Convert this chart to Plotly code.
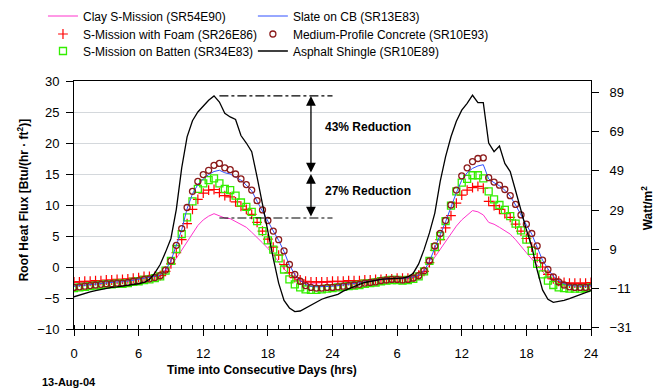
import numpy as np
import plotly.graph_objects as go

# time axis: 0..48 h in half-hour steps
hours = np.arange(0, 48.01, 0.5)

asphalt = [-4.8,-4.5,-4.2,-4.0,-3.8,-3.6,-3.4,-3.3,-3.2,-3.1,-3.0,-2.9,-2.7,-2.5,-2.0,-1.0,
           0.4,2.4,4.6,9.3,16.0,21.0,23.6,25.0,26.0,26.9,27.6,26.6,24.8,24.2,23.8,21.2,
           20.0,18.6,14.5,10.0,5.8,1.4,-2.6,-5.4,-6.6,-7.2,-7.1,-6.6,-6.1,-5.6,-5.2,-4.9,
           -4.7,-4.4,-3.9,-3.5,-3.1,-2.8,-2.5,-2.3,-2.1,-2.0,-1.9,-1.9,-1.9,-1.8,-1.6,-1.0,
           0.5,2.8,5.5,8.7,13.8,17.8,21.0,23.5,25.3,26.4,27.7,26.5,26.5,20.0,18.6,19.5,
           16.7,15.4,12.3,9.1,6.0,3.3,-0.5,-3.7,-5.2,-5.7,-5.6,-5.4,-5.1,-4.8,-4.5,-4.1,
           -3.8]

batten = [-3.4,-3.3,-3.2,-3.1,-3.0,-2.9,-2.8,-2.8,-2.7,-2.7,-2.6,-2.4,-2.3,-2.1,-2.0,-1.8,
          -1.5,-0.6,1.0,2.9,5.3,8.0,10.6,12.6,13.5,14.0,14.3,13.5,12.6,12.4,11.5,10.4,
          9.7,8.9,7.4,5.8,4.3,2.8,1.4,-0.4,-2.0,-2.8,-3.3,-3.6,-3.7,-3.7,-3.6,-3.5,
          -3.4,-3.3,-3.2,-3.1,-3.0,-2.9,-2.7,-2.6,-2.5,-2.3,-2.2,-2.1,-2.1,-2.2,-2.1,-1.9,
          -1.5,-0.7,1.0,3.2,5.0,7.4,9.9,12.2,13.6,14.2,14.8,14.8,14.3,12.2,10.9,10.0,
          9.2,8.2,7.0,5.9,4.4,2.6,0.5,-1.2,-2.2,-2.9,-3.3,-3.4,-3.5,-3.5,-3.5,-3.4,
          -3.3]

concrete = [-3.3,-3.2,-3.1,-3.0,-2.9,-2.8,-2.7,-2.7,-2.6,-2.6,-2.5,-2.3,-2.2,-2.0,-1.9,-1.7,
            -1.4,-0.5,1.0,3.5,6.2,9.6,12.2,13.8,14.9,15.6,16.4,16.7,16.0,15.7,15.0,14.2,
            13.3,12.4,10.7,9.2,7.5,5.8,4.4,2.6,0.4,-1.2,-2.3,-3.0,-3.3,-3.4,-3.4,-3.3,
            -3.3,-3.2,-3.1,-3.0,-2.9,-2.8,-2.6,-2.5,-2.4,-2.2,-2.1,-2.0,-2.0,-2.1,-2.0,-1.8,
            -1.4,-0.6,1.0,3.4,5.4,7.5,10.0,12.4,14.7,16.0,17.0,17.5,17.6,14.4,13.7,13.2,
            12.5,11.5,10.1,8.4,6.9,5.4,3.4,1.1,-0.4,-1.6,-2.4,-2.9,-3.2,-3.3,-3.3,-3.3,
            -3.2]

slate = [-3.1,-3.0,-2.9,-2.8,-2.7,-2.6,-2.5,-2.5,-2.4,-2.4,-2.3,-2.1,-2.0,-1.8,-1.7,-1.5,
         -1.3,-0.5,1.0,3.4,6.0,9.4,11.8,13.3,14.2,14.9,15.4,15.6,15.2,15.0,14.5,14.0,
         13.2,12.3,10.6,9.1,7.4,5.8,4.3,2.5,0.3,-1.2,-2.2,-2.8,-3.1,-3.2,-3.2,-3.1,
         -3.1,-3.0,-2.9,-2.8,-2.7,-2.6,-2.4,-2.3,-2.2,-2.0,-1.9,-1.8,-1.8,-1.9,-1.8,-1.6,
         -1.3,-0.6,0.9,3.2,5.2,7.3,9.7,12.0,14.0,15.2,15.9,16.3,16.5,14.2,13.6,13.1,
         12.4,11.4,10.0,8.3,6.8,5.3,3.3,1.1,-0.3,-1.5,-2.2,-2.7,-3.0,-3.1,-3.1,-3.1,
         -3.0]

foam = [-2.4,-2.4,-2.3,-2.3,-2.2,-2.2,-2.1,-2.1,-2.0,-2.0,-1.9,-1.8,-1.7,-1.5,-1.5,-1.5,
        -1.4,-0.7,0.5,2.3,4.4,7.0,9.3,10.9,11.9,12.4,12.5,12.0,11.5,11.3,10.5,9.8,
        9.3,8.5,7.2,5.8,4.5,3.2,1.9,0.4,-0.9,-1.7,-2.1,-2.3,-2.4,-2.4,-2.4,-2.4,
        -2.3,-2.3,-2.3,-2.2,-2.2,-2.2,-2.1,-2.1,-2.0,-2.0,-1.9,-1.9,-1.8,-1.8,-1.8,-1.6,
        -1.3,-0.7,0.7,2.7,4.4,6.3,8.3,10.3,11.6,12.4,12.8,13.0,12.7,10.6,9.9,9.3,
        8.6,8.0,6.9,5.8,4.6,3.2,1.5,0.0,-1.2,-1.9,-2.3,-2.5,-2.6,-2.6,-2.6,-2.6,
        -2.5]

clay = [-2.5,-2.5,-2.4,-2.4,-2.3,-2.3,-2.2,-2.2,-2.1,-2.1,-2.0,-1.9,-1.8,-1.5,-1.3,-1.4,
        -1.3,-0.7,0.2,1.4,2.7,4.1,5.5,6.7,7.6,8.2,8.6,8.2,7.9,7.8,7.3,6.9,
        6.4,5.6,4.8,3.9,3.0,2.0,0.8,-0.3,-1.2,-1.9,-2.3,-2.5,-2.6,-2.6,-2.5,-2.5,
        -2.4,-2.4,-2.4,-2.3,-2.3,-2.3,-2.2,-2.2,-2.1,-2.1,-2.0,-2.0,-1.9,-1.9,-1.9,-1.7,
        -1.4,-0.8,0.3,1.6,2.9,4.2,5.5,6.6,7.6,8.4,9.1,8.9,8.4,7.2,6.9,6.4,
        5.9,5.3,4.4,3.3,2.3,1.3,0.3,-0.8,-1.7,-2.2,-2.5,-2.6,-2.7,-2.7,-2.7,-2.7,
        -2.6]

x_tickvals = [0, 6, 12, 18, 24, 30, 36, 42, 48]
x_ticktext = ["0", "6", "12", "18", "24", "6", "12", "18", "24"]
y2_ticks = [-31, -11, 9, 29, 49, 69, 89]
BTU_TO_W = 3.1546

FONT = "Liberation Sans, Arial, sans-serif"

fig = go.Figure()

fig.add_trace(go.Scatter(x=hours, y=clay, mode="lines", name="Clay S-Mission (SR54E90)",
                         line=dict(color="#ff33cc", width=1), legend="legend"))
fig.add_trace(go.Scatter(x=hours, y=foam, mode="markers", name="S-Mission with Foam (SR26E86)",
                         marker=dict(symbol="cross-thin", size=7, color="#ff0000",
                                     line=dict(color="#ff0000", width=1.2)),
                         legend="legend2"))
fig.add_trace(go.Scatter(x=hours, y=batten, mode="markers", name="S-Mission on Batten (SR34E83)",
                         marker=dict(symbol="square-open", size=7, color="#33ee00",
                                     line=dict(color="#33ee00", width=1.3)),
                         legend="legend3"))
fig.add_trace(go.Scatter(x=hours, y=slate, mode="lines", name="Slate on CB (SR13E83)",
                         line=dict(color="#3050ff", width=1), legend="legend4"))
fig.add_trace(go.Scatter(x=hours, y=concrete, mode="markers", name="Medium-Profile Concrete (SR10E93)",
                         marker=dict(symbol="circle-open", size=6, color="#8b1a1a",
                                     line=dict(color="#8b1a1a", width=1.3)),
                         legend="legend5"))
fig.add_trace(go.Scatter(x=hours, y=asphalt, mode="lines", name="Asphalt Shingle (SR10E89)",
                         line=dict(color="#000000", width=1.3), legend="legend6"))
# empty trace to anchor the secondary (W/m2) axis
fig.add_trace(go.Scatter(x=[None], y=[None], yaxis="y2", showlegend=False, hoverinfo="skip"))

# reduction annotation levels
y_top, y_mid, y_low = 27.6, 15.0, 7.9
x_line0, x_line1, x_arrow, x_text = 13.5, 24.0, 22.0, 23.1

for yv in (y_top, y_low):
    fig.add_shape(type="line", x0=x_line0, x1=x_line1, y0=yv, y1=yv, xref="x", yref="y",
                  line=dict(color="black", width=1.2, dash="dashdot"))

for y_a, y_b in ((y_top, y_mid), (y_mid, y_low)):
    fig.add_annotation(x=x_arrow, y=y_a, ax=x_arrow, ay=y_b, xref="x", yref="y",
                       axref="x", ayref="y", showarrow=True, arrowhead=2, arrowside="end+start",
                       arrowsize=1.5, arrowwidth=1.3, arrowcolor="black", text="",
                       standoff=0, startstandoff=0)

fig.add_annotation(x=x_text, y=22.6, xref="x", yref="y", text="<b>43% Reduction</b>",
                   showarrow=False, xanchor="left", yanchor="middle",
                   font=dict(family=FONT, size=12, color="black"))
fig.add_annotation(x=x_text, y=12.2, xref="x", yref="y", text="<b>27% Reduction</b>",
                   showarrow=False, xanchor="left", yanchor="middle",
                   font=dict(family=FONT, size=12, color="black"))

# axis titles and date as annotations
fig.add_annotation(x=0.364, y=-0.165, xref="paper", yref="paper",
                   text="<b>Time into Consecutive Days (hrs)</b>", showarrow=False,
                   xanchor="center", yanchor="middle", font=dict(family=FONT, size=12, color="black"))
fig.add_annotation(x=-0.066, y=-0.214, xref="paper", yref="paper", text="<b>13-Aug-04</b>",
                   showarrow=False, xanchor="left", yanchor="middle",
                   font=dict(family=FONT, size=11, color="black"))
fig.add_annotation(x=-0.099, y=0.522, xref="paper", yref="paper",
                   text="<b>Roof Heat Flux [Btu/(hr · ft<sup>2</sup>)]</b>", showarrow=False,
                   textangle=-90, xanchor="center", yanchor="middle",
                   font=dict(family=FONT, size=12, color="black"))
fig.add_annotation(x=1.110, y=0.49, xref="paper", yref="paper",
                   text="<b>Watt/m<sup>2</sup></b>", showarrow=False,
                   textangle=-90, xanchor="center", yanchor="middle",
                   font=dict(family=FONT, size=12, color="black"))

# one legend box per entry, laid out as two columns of three rows
PLOT_BOTTOM_PX, PLOT_H_PX = 329, 248
row_px = [16, 34, 51]
col_x = [-0.06, 0.346]
legend_boxes = {}
names = ["legend", "legend2", "legend3", "legend4", "legend5", "legend6"]
for i, nm in enumerate(names):
    col, row = divmod(i, 3)
    legend_boxes[nm] = dict(x=col_x[col], y=(PLOT_BOTTOM_PX - row_px[row]) / PLOT_H_PX,
                            xanchor="left", yanchor="middle", bgcolor="rgba(0,0,0,0)",
                            font=dict(family=FONT, size=12, color="black"), itemwidth=30)

fig.update_layout(
    width=662, height=390,
    margin=dict(l=74, r=71, t=81, b=61, autoexpand=False),
    paper_bgcolor="white", plot_bgcolor="white",
    font=dict(family=FONT, size=13, color="black"),
    showlegend=True,
    **legend_boxes,
    xaxis=dict(range=[0, 48], tickvals=x_tickvals, ticktext=x_ticktext, showgrid=False,
               showline=True, linecolor="black", linewidth=1, mirror=True, zeroline=False,
               ticks="outside", ticklen=6, tickcolor="black", ticklabelstandoff=6,
               minor=dict(dtick=1, ticks="inside", ticklen=4, tickcolor="black", showgrid=False),
               tickfont=dict(family=FONT, size=13)),
    yaxis=dict(range=[-10, 30], dtick=5, showgrid=True, gridcolor="#d4d8dc", gridwidth=1,
               showline=True, linecolor="black", linewidth=1, zeroline=False,
               ticks="outside", ticklen=7, tickcolor="black", ticklabelstandoff=4,
               tickfont=dict(family=FONT, size=13)),
    yaxis2=dict(range=[-10 * BTU_TO_W, 30 * BTU_TO_W], tickvals=y2_ticks, overlaying="y",
                side="right", showgrid=False, showline=True, linecolor="black", linewidth=1,
                zeroline=False, ticks="outside", ticklen=7, tickcolor="black",
                ticklabelstandoff=8, tickfont=dict(family=FONT, size=13)),
)

fig.write_html("out.html")
